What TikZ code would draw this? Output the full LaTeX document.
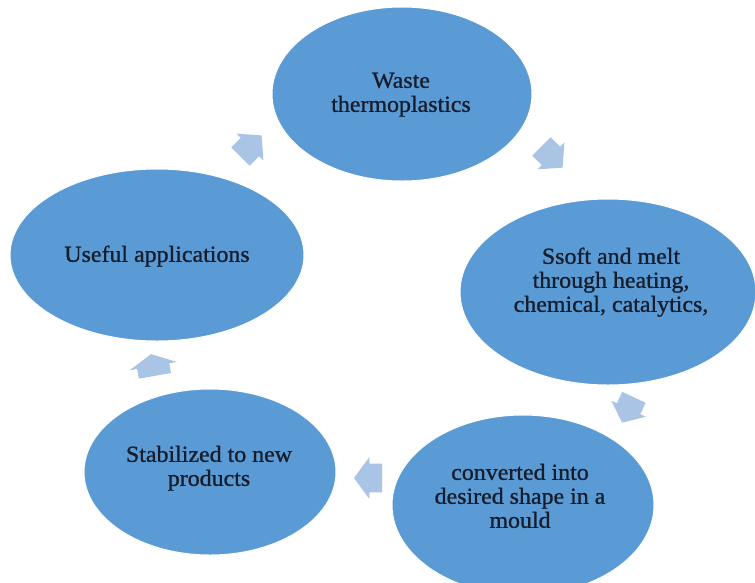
\documentclass[tikz,border=0pt]{standalone}
\usepackage{fontspec}
\setmainfont{Liberation Serif}
\newfontfamily\stagefont[FakeBold=1]{Liberation Serif}
\usepackage{graphicx}
\usetikzlibrary{shapes.geometric}
\definecolor{ellfill}{RGB}{91,155,213}
\definecolor{arrfill}{RGB}{170,196,230}
\definecolor{txtcol}{RGB}{22,30,45}
\newcommand{\wtext}[1]{\scalebox{1.04}[1]{\begin{tabular}{@{}c@{}}#1\end{tabular}}}
\newcommand{\cyclearrow}[4]{%
  \begin{scope}[shift={(#1)}, rotate=#2]
    \pgfmathsetmacro\cahl{#3/2}%
    \pgfmathsetmacro\cahw{#4/2}%
    \pgfmathsetmacro\casw{0.34*#4}%
    \pgfmathsetmacro\cahb{#3/2-0.55*#3}%
    \fill[arrfill] (-\cahl,-\casw) -- (\cahb,-\casw) -- (\cahb,-\cahw) -- (\cahl,0)
      -- (\cahb,\cahw) -- (\cahb,\casw) -- (-\cahl,\casw) -- cycle;
  \end{scope}}
\tikzset{
  stage/.style={ellipse, fill=ellfill, draw=white, line width=1pt, inner sep=0pt},
  stagetext/.style={text=txtcol, font=\stagefont\fontsize{23}{24}\selectfont, align=center, inner sep=0pt},
}
\begin{document}
\begin{tikzpicture}[x=1pt,y=-1pt]
\useasboundingbox (0,0) rectangle (755,582);
\fill[white] (0,0) rectangle (755,582);
\clip (0,0) rectangle (755,582);
% stages
\node[stage, minimum width=260pt, minimum height=174pt] (waste) at (402,94) {};
\node[stage, minimum width=296pt, minimum height=186pt] (soft) at (608,292) {};
\node[stage, minimum width=262pt, minimum height=180pt] (conv) at (523,505) {};
\node[stage, minimum width=252pt, minimum height=166pt] (stab) at (210,472) {};
\node[stage, minimum width=294pt, minimum height=172pt] (useful) at (157,255) {};
% texts
\node[stagetext] (wastet) at (401,95) {\wtext{Waste\\thermoplastics}};
\node[stagetext] (softt) at (611,283) {\wtext{Ssoft and melt\\through heating,\\chemical, catalytics,}};
\node[stagetext] (convt) at (520,499) {\wtext{converted into\\desired shape in a\\mould}};
\node[stagetext] (stabt) at (209,469) {\wtext{Stabilized to new\\products}};
\node[stagetext] (usefult) at (157,257) {\wtext{Useful applications}};
% arrows
\cyclearrow{552,157}{-45}{30}{38}
\cyclearrow{628,410}{-115}{28}{38}
\cyclearrow{368,478}{180}{28}{42}
\cyclearrow{153,365}{100}{22}{48}
\cyclearrow{251,146}{45}{30}{38}
\end{tikzpicture}
\end{document}
